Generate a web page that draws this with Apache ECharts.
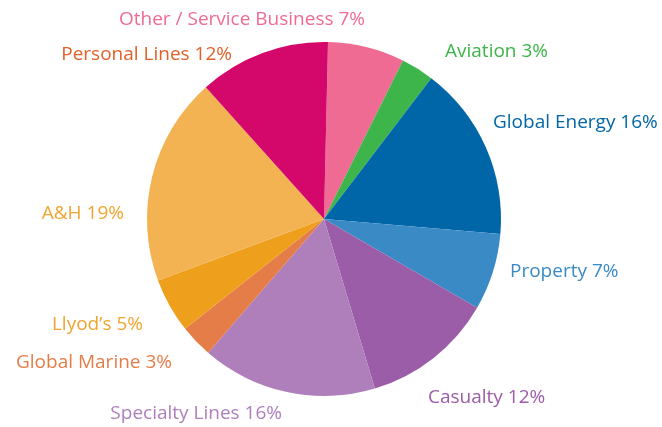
<!DOCTYPE html>
<html><head><meta charset="utf-8">
<script src="https://cdn.jsdelivr.net/npm/echarts@6/dist/echarts.min.js"></script>
<style>html,body{margin:0;padding:0;background:#fff}#c{width:662px;height:427px}</style>
</head><body><div id="c"></div>
<script>
const categories = ['Other / Service Business','Aviation','Global Energy','Property','Casualty','Specialty Lines','Global Marine',"Llyod’s",'A&H','Personal Lines'];
const values = [7,3,16,7,12,16,3,5,19,12];
const colors = ['#f06b94','#3db54a','#0066a8','#3a8ac6','#9b5ca8','#ae7fbb','#e57d48','#ee9f1c','#f3b352','#d4086a'];
const labelColors = ['#f06b94','#3db54a','#0066a8','#3a8ac6','#9b5ca8','#ae7fbb','#e57d48','#f0a530','#f0a530','#e2602a'];
// label anchor positions [x, y, align]
const labelPos = [
  [242,20,'center'],[445,52,'left'],[493,123,'left'],[510,272,'left'],[428,398,'left'],
  [282,414,'right'],[172,363,'right'],[143,325,'right'],[124,214,'right'],[232,55,'right']
];
const chart = echarts.init(document.getElementById('c'));
chart.setOption({
  animation:false,
  series:[{
    type:'pie',
    center:[324,219],
    radius:177,
    startAngle:88.7,
    clockwise:true,
    data: categories.map((n,i)=>({name:n,value:values[i],itemStyle:{color:colors[i]},label:{color:labelColors[i]}})),
    label:{show:true,position:'outside',formatter:'{b} {c}%',fontFamily:'Open Sans',fontSize:19,overflow:'none'},
    labelLine:{show:false},
    labelLayout:function(p){const q=labelPos[p.dataIndex];return {x:q[0],y:q[1],align:q[2],verticalAlign:'middle'};},
    emphasis:{disabled:true}
  }]
});
</script></body></html>
